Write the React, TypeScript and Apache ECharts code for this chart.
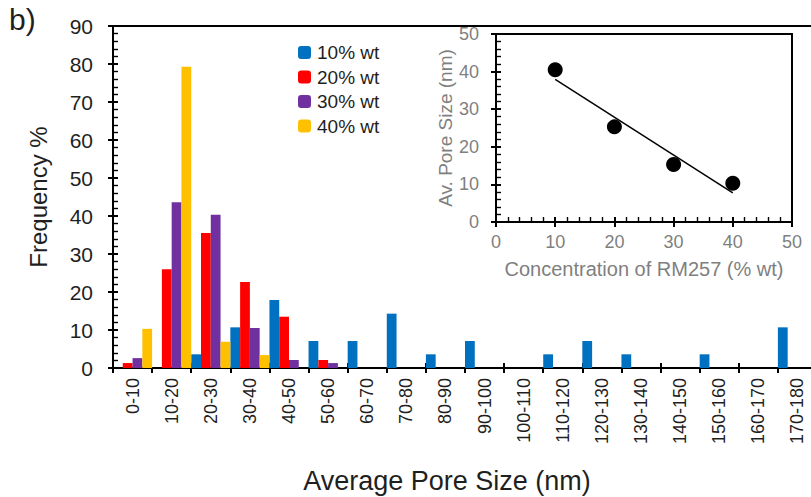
import React, { useEffect, useRef } from "react";
import * as echarts from "echarts";

// Pore-size bins (nm)
const categories = [
  "0-10", "10-20", "20-30", "30-40", "40-50", "50-60", "60-70", "70-80", "80-90",
  "90-100", "100-110", "110-120", "120-130", "130-140", "140-150", "150-160", "160-170", "170-180",
];

// Frequency % per bin for each RM257 concentration
const wt10 = [0, 0, 3.6, 10.7, 17.9, 7.1, 7.1, 14.3, 3.6, 7.1, 0, 3.6, 7.1, 3.6, 0, 3.6, 0, 10.7];
const wt20 = [1.3, 26.0, 35.5, 22.6, 13.5, 2.1, 0, 0, 0, 0, 0, 0, 0, 0, 0, 0, 0, 0];
const wt30 = [2.6, 43.6, 40.3, 10.5, 2.1, 1.3, 0, 0, 0, 0, 0, 0, 0, 0, 0, 0, 0, 0];
const wt40 = [10.3, 79.3, 6.9, 3.4, 0, 0, 0, 0, 0, 0, 0, 0, 0, 0, 0, 0, 0, 0];

const seriesNames = ["10% wt", "20% wt", "30% wt", "40% wt"];
const seriesColors = ["#0070C0", "#FF0000", "#7030A0", "#FFC000"];

// Inset: average pore size vs concentration
const concentration = [10, 20, 30, 40];
const avgPoreSize = [40.5, 25.3, 15.3, 10.3];

const FONT = "'Liberation Sans', Arial, sans-serif";

// Least-squares fit line through the inset points
function linearFit(xs: number[], ys: number[]) {
  const n = xs.length;
  const mx = xs.reduce((a, b) => a + b, 0) / n;
  const my = ys.reduce((a, b) => a + b, 0) / n;
  let num = 0;
  let den = 0;
  for (let i = 0; i < n; i++) {
    num += (xs[i] - mx) * (ys[i] - my);
    den += (xs[i] - mx) * (xs[i] - mx);
  }
  const slope = num / den;
  const icpt = my - slope * mx;
  const x0 = Math.min(...xs);
  const x1 = Math.max(...xs);
  return [
    [x0, icpt + slope * x0],
    [x1, icpt + slope * x1],
  ];
}

export default function App() {
  const ref = useRef<HTMLDivElement>(null);

  useEffect(() => {
    if (!ref.current) return;
    const chart = echarts.init(ref.current, undefined, { renderer: "svg" });
    const black = "#000";
    const mainLabel = "#1f1f1f";
    const insetLabel = "#7f7f7f";
    const axisW = 2;

    const datasets = [wt10, wt20, wt30, wt40];

    const option: any = {
      animation: false,
      backgroundColor: "#fff",
      textStyle: { fontFamily: FONT },
      grid: [
        { left: 113, top: 26, right: 0, bottom: 129, show: true, borderColor: black, borderWidth: axisW, backgroundColor: "transparent" },
        { left: 496, top: 34, right: 25, bottom: 275, show: true, borderColor: black, borderWidth: axisW, backgroundColor: "transparent" },
      ],
      legend: {
        orient: "vertical",
        left: 298,
        top: 43,
        padding: 0,
        itemWidth: 13,
        itemHeight: 13,
        itemGap: 5.5,
        icon: "roundRect",
        data: seriesNames,
        textStyle: { fontFamily: FONT, fontSize: 19, color: mainLabel, padding: [0, 0, 0, 1] },
      },
      xAxis: [
        {
          type: "category",
          gridIndex: 0,
          position: "bottom",
          data: categories,
          axisLine: { lineStyle: { color: black, width: axisW } },
          axisTick: { show: true, length: 5, lineStyle: { color: black, width: axisW } },
          axisLabel: { rotate: 90, fontSize: 18, color: mainLabel, margin: 10, interval: 0, fontFamily: FONT },
        },
        {
          type: "category",
          gridIndex: 0,
          position: "bottom",
          data: categories,
          axisLine: { show: false },
          axisTick: { show: true, inside: true, length: 5, lineStyle: { color: black, width: axisW } },
          axisLabel: { show: false },
        },
        {
          type: "value",
          gridIndex: 1,
          position: "bottom",
          min: 0,
          max: 50,
          interval: 10,
          name: "Concentration of RM257 (% wt)",
          nameLocation: "middle",
          nameGap: 37,
          nameTextStyle: { fontSize: 20, color: insetLabel, fontFamily: FONT },
          axisLine: { lineStyle: { color: black, width: axisW } },
          axisTick: { show: true, length: 5, lineStyle: { color: black, width: axisW } },
          axisLabel: { fontSize: 18, color: insetLabel, margin: 11, fontFamily: FONT },
          splitLine: { show: false },
        },
        {
          type: "value",
          gridIndex: 1,
          position: "bottom",
          min: 0,
          max: 50,
          interval: 10,
          axisLine: { show: false },
          axisTick: { show: true, inside: true, length: 5, lineStyle: { color: black, width: axisW } },
          minorTick: { show: true, splitNumber: 5, length: 5, lineStyle: { color: black, width: 1.4 } },
          axisLabel: { show: false },
          splitLine: { show: false },
        },
      ],
      yAxis: [
        {
          type: "value",
          gridIndex: 0,
          position: "left",
          min: 0,
          max: 90,
          interval: 10,
          name: "Frequency %",
          nameLocation: "middle",
          nameGap: 63,
          nameTextStyle: { fontSize: 24, color: mainLabel, fontFamily: FONT },
          axisLine: { lineStyle: { color: black, width: axisW } },
          axisTick: { show: true, length: 5, lineStyle: { color: black, width: axisW } },
          axisLabel: { fontSize: 21, color: mainLabel, margin: 20, fontFamily: FONT },
          splitLine: { show: false },
        },
        {
          type: "value",
          gridIndex: 0,
          position: "left",
          min: 0,
          max: 90,
          interval: 10,
          axisLine: { show: false },
          axisTick: { show: true, inside: true, length: 5, lineStyle: { color: black, width: axisW } },
          minorTick: { show: true, splitNumber: 5, length: 5, lineStyle: { color: black, width: 1.4 } },
          axisLabel: { show: false },
          splitLine: { show: false },
        },
        {
          type: "value",
          gridIndex: 1,
          position: "left",
          min: 0,
          max: 50,
          interval: 10,
          name: "Av. Pore Size (nm)",
          nameLocation: "middle",
          nameGap: 40,
          nameTextStyle: { fontSize: 19, color: insetLabel, fontFamily: FONT },
          axisLine: { lineStyle: { color: black, width: axisW } },
          axisTick: { show: true, length: 5, lineStyle: { color: black, width: axisW } },
          axisLabel: { fontSize: 18, color: insetLabel, margin: 17, fontFamily: FONT },
          splitLine: { show: false },
        },
        {
          type: "value",
          gridIndex: 1,
          position: "left",
          min: 0,
          max: 50,
          interval: 10,
          axisLine: { show: false },
          axisTick: { show: true, inside: true, length: 5, lineStyle: { color: black, width: axisW } },
          minorTick: { show: true, splitNumber: 5, length: 5, lineStyle: { color: black, width: 1.4 } },
          axisLabel: { show: false },
          splitLine: { show: false },
        },
      ],
      graphic: [
        {
          type: "text",
          left: 9,
          top: 4,
          style: { text: "b)", fontSize: 30, fill: mainLabel, fontFamily: FONT },
        },
        {
          type: "text",
          x: 447,
          y: 467,
          style: {
            text: "Average Pore Size (nm)",
            fontSize: 27,
            fill: mainLabel,
            fontFamily: FONT,
            textAlign: "center",
            textVerticalAlign: "top",
          },
        },
      ],
      series: [
        ...datasets.map((d, i) => ({
          name: seriesNames[i],
          type: "bar",
          xAxisIndex: 0,
          yAxisIndex: 0,
          data: d,
          barGap: "0%",
          barCategoryGap: "0%",
          itemStyle: { color: seriesColors[i] },
        })),
        {
          name: "fit",
          type: "line",
          xAxisIndex: 2,
          yAxisIndex: 2,
          data: linearFit(concentration, avgPoreSize),
          symbol: "none",
          lineStyle: { color: black, width: 1.5 },
          z: 3,
        },
        {
          name: "avg",
          type: "scatter",
          xAxisIndex: 2,
          yAxisIndex: 2,
          data: concentration.map((c, i) => [c, avgPoreSize[i]]),
          symbol: "circle",
          symbolSize: 15,
          itemStyle: { color: black, opacity: 1 },
          z: 4,
        },
      ],
    };

    chart.setOption(option);
    return () => chart.dispose();
  }, []);

  return (
    <div
      ref={ref}
      style={{ position: "fixed", left: 0, top: 0, width: 817, height: 497, background: "#fff" }}
    />
  );
}
